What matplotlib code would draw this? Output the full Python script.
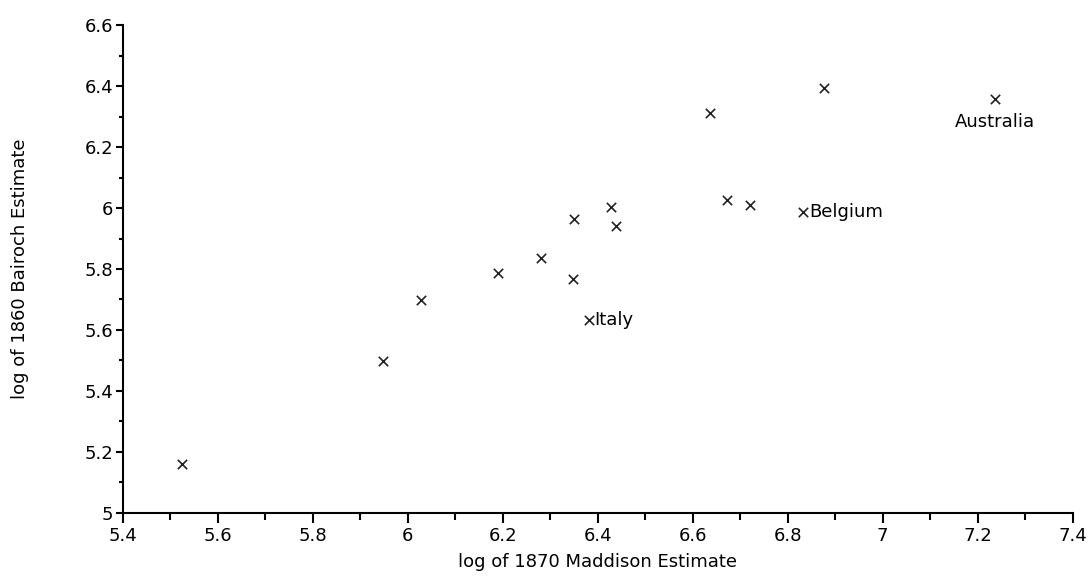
import matplotlib.pyplot as plt
from matplotlib.ticker import MultipleLocator

# log of 1870 Maddison estimate vs log of 1860 Bairoch estimate
maddison = [5.524, 5.948, 6.028, 6.19, 6.28, 6.349, 6.35, 6.427, 6.439,
            6.382, 6.636, 6.672, 6.72, 6.833, 6.877, 7.236]
bairoch = [5.162, 5.499, 5.699, 5.788, 5.837, 5.767, 5.965, 6.003, 5.94,
           5.634, 6.311, 6.027, 6.011, 5.987, 6.393, 6.358]

# labelled countries
labels = ["Italy", "Belgium", "Australia"]
label_x = [6.382, 6.833, 7.236]
label_y = [5.634, 5.987, 6.358]

fig = plt.figure(figsize=(10.92, 5.82), dpi=100)
ax = fig.add_axes([0.1124, 0.1186, 0.8699, 0.8384])

ax.scatter(maddison, bairoch, marker="x", s=45, color="#222222", linewidths=1.2)

# Italy and Belgium labels to the right, Australia below
for name, x, y in zip(labels, label_x, label_y):
    if name == "Australia":
        ax.annotate(name, (x, y), xytext=(0, -10), textcoords="offset points",
                    ha="center", va="top", fontsize=13)
    else:
        ax.annotate(name, (x, y), xytext=(4, 0), textcoords="offset points",
                    ha="left", va="center", fontsize=13)

ax.set_xlim(5.4, 7.4)
ax.set_ylim(5.0, 6.6)
ax.xaxis.set_major_locator(MultipleLocator(0.2))
ax.xaxis.set_minor_locator(MultipleLocator(0.1))
ax.yaxis.set_major_locator(MultipleLocator(0.2))
ax.yaxis.set_minor_locator(MultipleLocator(0.1))

fmt = lambda v, p: ("%.1f" % v).rstrip("0").rstrip(".")
ax.xaxis.set_major_formatter(plt.FuncFormatter(fmt))
ax.yaxis.set_major_formatter(plt.FuncFormatter(fmt))

for s in ["top", "right"]:
    ax.spines[s].set_visible(False)
for s in ["left", "bottom"]:
    ax.spines[s].set_linewidth(1.5)

ax.tick_params(axis="x", which="major", length=7, width=1.5, labelsize=13, pad=3)
ax.tick_params(axis="x", which="minor", length=5, width=1.5)
ax.tick_params(axis="y", which="major", length=5, width=1.5, labelsize=13, pad=2)
ax.tick_params(axis="y", which="minor", length=3, width=1.5)

ax.set_xlabel("log of 1870 Maddison Estimate", fontsize=13, labelpad=6)
ax.set_ylabel("log of 1860 Bairoch Estimate", fontsize=13, labelpad=40)

fig.savefig("out.png", dpi=100)
